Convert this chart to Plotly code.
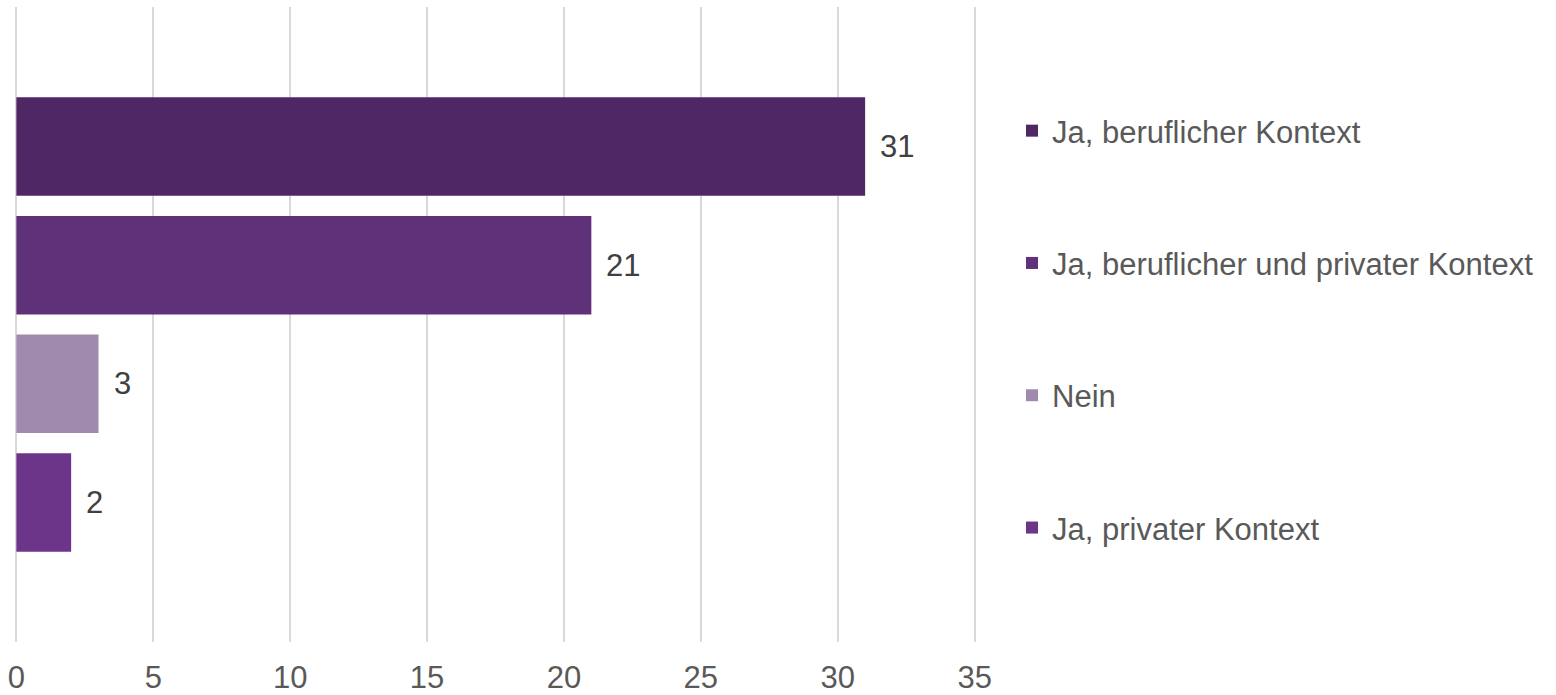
import plotly.graph_objects as go

# Survey answers, top to bottom
categories = [
    "Ja, beruflicher Kontext",
    "Ja, beruflicher und privater Kontext",
    "Nein",
    "Ja, privater Kontext",
]
counts = [31, 21, 3, 2]
colors = ["#4F2765", "#5E3178", "#A08BAF", "#6C3589"]
x_ticks = [0, 5, 10, 15, 20, 25, 30, 35]

FONT = "Arial, 'Liberation Sans', sans-serif"
n = len(categories)
positions = [n - 1 - i for i in range(n)]  # first category on top

fig = go.Figure()
for cat, val, col, pos in zip(categories, counts, colors, positions):
    fig.add_trace(go.Bar(
        x=[val], y=[pos], orientation="h", name=cat,
        marker=dict(color=col, line=dict(width=0)),
        width=0.83, legendgroup=cat, showlegend=True,
        hoverinfo="x+name",
    ))
    fig.add_annotation(
        x=val, y=pos, text=str(val), showarrow=False,
        xanchor="left", yanchor="middle", xshift=13,
        font=dict(family=FONT, size=31, color="#404040"),
    )

fig.update_layout(
    width=1556, height=695,
    margin=dict(l=15, r=580, t=7, b=53, autoexpand=False),
    paper_bgcolor="white", plot_bgcolor="white",
    barmode="overlay",
    font=dict(family=FONT, size=31, color="#595959"),
    xaxis=dict(
        range=[-0.05, 35.05], tickvals=x_ticks, showgrid=True,
        gridcolor="#D9D9D9", gridwidth=1.5,
        zeroline=True, zerolinecolor="#D9D9D9", zerolinewidth=1.5,
        showline=False, ticks="", ticklabelstandoff=14,
        tickfont=dict(family=FONT, size=31, color="#595959"),
        automargin=False, fixedrange=True,
    ),
    yaxis=dict(
        range=[-1.175, 4.175], visible=False, showgrid=False,
        zeroline=False, automargin=False, fixedrange=True,
    ),
    legend=dict(
        xref="container", yref="container",
        x=1012 / 1556, y=1 - 104 / 695, xanchor="left", yanchor="top",
        traceorder="grouped", tracegroupgap=89, itemwidth=30,
        maxheight=680,
        font=dict(family=FONT, size=31, color="#595959"),
        bgcolor="rgba(0,0,0,0)",
    ),
    showlegend=True,
)

fig.write_html("out.html")
